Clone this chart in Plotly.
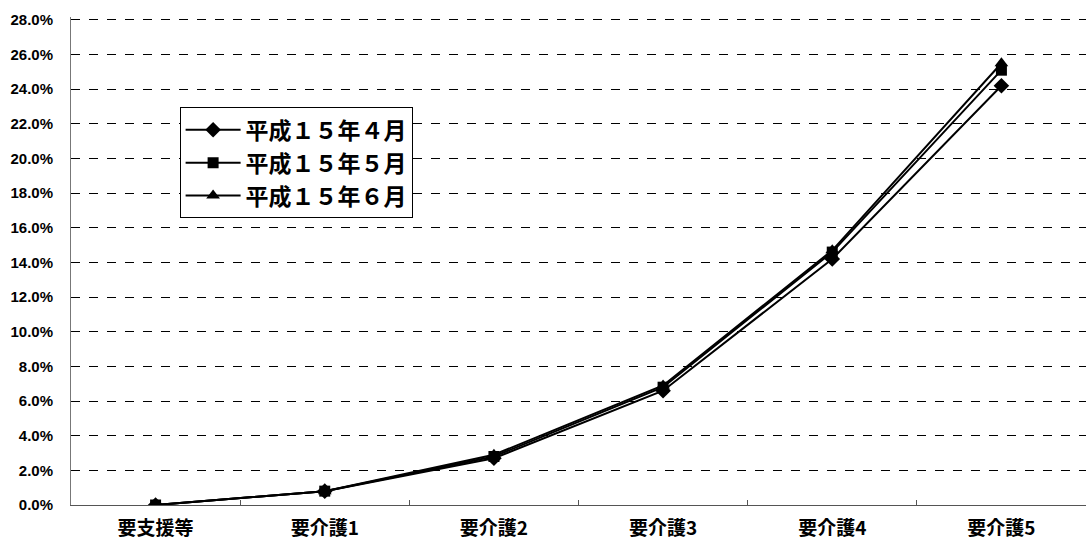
import plotly.graph_objects as go

categories = ["要支援等", "要介護1", "要介護2", "要介護3", "要介護4", "要介護5"]
series_names = ["平成１５年４月", "平成１５年５月", "平成１５年６月"]
apr_values = [0.0, 0.8, 2.7, 6.6, 14.2, 24.2]
may_values = [0.0, 0.8, 2.8, 6.8, 14.6, 25.1]
jun_values = [0.0, 0.8, 2.9, 6.9, 14.7, 25.5]
y_ticks = [0, 2, 4, 6, 8, 10, 12, 14, 16, 18, 20, 22, 24, 26, 28]

symbols = ["diamond", "square", "triangle-up"]
sizes = [12, 11, 12]

fig = go.Figure()
for name, vals, sym, sz in zip(series_names, [apr_values, may_values, jun_values], symbols, sizes):
    fig.add_trace(go.Scatter(
        x=categories, y=vals, name=name, mode="lines+markers",
        line=dict(color="black", width=2),
        marker=dict(symbol=sym, size=sz, color="black"),
    ))

fig.update_layout(
    width=1086, height=540,
    margin=dict(l=71, r=0, t=17, b=33),
    paper_bgcolor="white", plot_bgcolor="white",
    font=dict(family="Noto Sans CJK JP, Arial", color="black"),
    legend=dict(
        x=0.107, y=0.815, xanchor="left", yanchor="top",
        bordercolor="black", borderwidth=1, bgcolor="white",
        font=dict(size=23, family="Noto Sans CJK JP", weight="bold"),
        tracegroupgap=0, itemwidth=55,
    ),
    xaxis=dict(
        showline=True, linecolor="#555555", linewidth=1,
        ticks="inside", ticklen=5, tickcolor="#555555", tickson="boundaries",
        showgrid=False, zeroline=False,
        tickfont=dict(size=19, family="Noto Sans CJK JP", weight="bold"),
        ticklabelstandoff=6,
        range=[-0.5, 5.5],
    ),
    yaxis=dict(
        range=[0, 28.17], tickvals=y_ticks,
        ticktext=[f"{v:.1f}%" for v in y_ticks],
        showline=True, linecolor="#777777", linewidth=1,
        showgrid=True, gridcolor="black", gridwidth=1, griddash="dash",
        zeroline=False,
        tickfont=dict(size=15, family="Liberation Sans", weight="bold"),
        ticklabelstandoff=14,
        ticks="",
    ),
)

fig.write_html("out.html")
